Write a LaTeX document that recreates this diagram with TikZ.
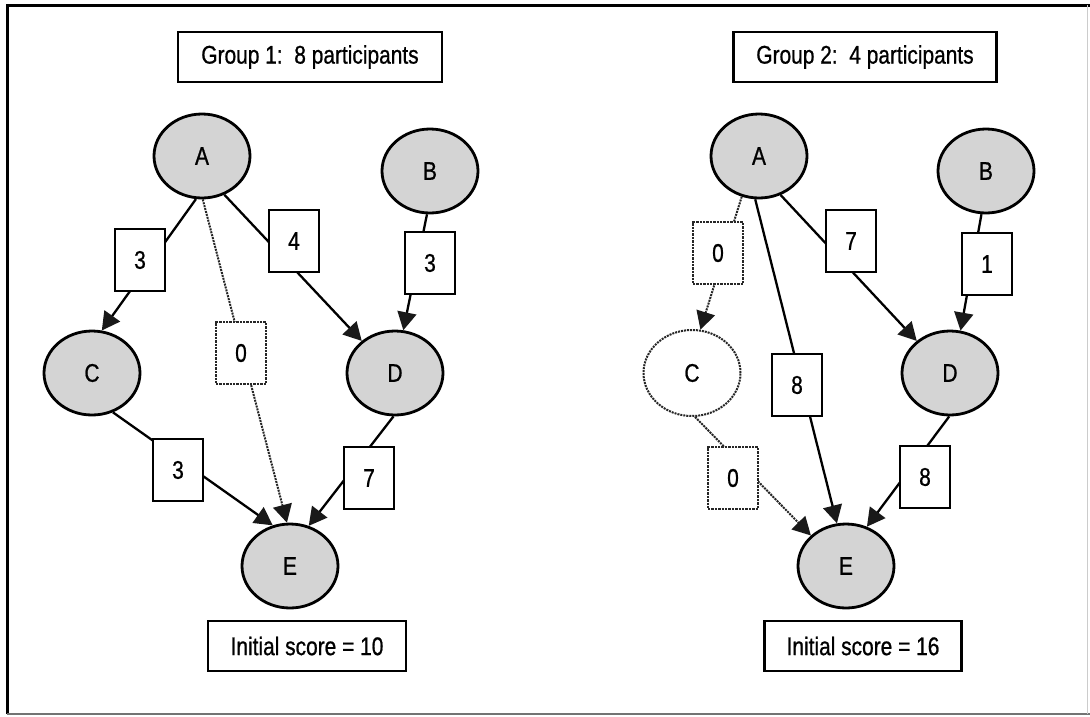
\documentclass[tikz,border=0pt]{standalone}
\usepackage{fontspec}
\setmainfont{Liberation Sans}[FakeStretch=0.82,FakeBold=0.8]
\usetikzlibrary{arrows.meta,shapes.geometric}
\begin{document}
\begin{tikzpicture}[x=1pt,y=-1pt,
  font=\fontsize{25.5}{30}\selectfont,
  state/.style={ellipse,draw,line width=2.8pt,fill=black!17,minimum width=96pt,minimum height=84pt,inner sep=0pt},
  ghost/.style={ellipse,draw=black!85,densely dotted,line width=2pt,fill=white,minimum width=97pt,minimum height=86pt,inner sep=0pt},
  wbox/.style={draw,line width=2.4pt,fill=white,minimum width=50pt,minimum height=62pt,inner sep=0pt},
  zbox/.style={wbox,draw=black!85,densely dotted,line width=2pt},
  caption/.style={draw,line width=2.6pt,fill=white,minimum height=50pt,inner sep=0pt},
  tip/.style={-{Triangle[length=18pt,width=19pt,color=black!90]}},
  flow/.style={line width=2.3pt,tip},
  zflow/.style={draw=black!85,densely dotted,line width=2pt,tip}
]
\useasboundingbox (0,0) rectangle (1090,716);

% outer frame
\draw[line width=3pt] (7,714) -- (7,5) -- (1090,5);
\draw[line width=2.5pt,black!55] (7,714) -- (1090,714);
\draw[line width=1pt,black!20] (1087,5) -- (1087,714);

% ---------- group 1 ----------
\node[caption,minimum width=264pt] (t1) at (310,57) {Group 1:\ \ 8 participants};
\node[state] (a1) at (202,156) {A};
\node[state] (b1) at (430,171) {B};
\node[state] (c1) at (92,373) {C};
\node[state] (d1) at (395,373) {D};
\node[state] (e1) at (290,566) {E};
\node[caption,minimum width=198pt] (s1) at (307,646) {Initial score = 10};

\draw[flow] (a1.262) -- (c1.77);
\draw[flow] (a1.300) -- (d1.136);
\draw[zflow] (a1.271) -- (e1.94);
\draw[flow] (b1.266) -- (d1.79);
\draw[flow] (c1.298) -- (e1.113);
\draw[flow] (d1.268) -- (e1.65);

\node[wbox] (w1ac) at (140,260) {3};
\node[wbox] (w1ad) at (294,241) {4};
\node[zbox] (w1ae) at (241,353) {0};
\node[wbox] (w1bd) at (430,263) {3};
\node[wbox] (w1ce) at (178,470) {3};
\node[wbox] (w1de) at (369,478) {7};

% ---------- group 2 ----------
\node[caption,minimum width=263pt] (t2) at (865,57) {Group 2:\ \ 4 participants};
\node[state] (a2) at (759,156) {A};
\node[state] (b2) at (986,171) {B};
\node[ghost] (c2) at (692,373) {C};
\node[state] (d2) at (950,373) {D};
\node[state] (e2) at (846,566) {E};
\node[caption,minimum width=197pt] (s2) at (863,646) {Initial score = 16};

\draw[zflow] (a2.247) -- (c2.79);
\draw[flow] (a2.265) -- (e2.102);
\draw[flow] (a2.299) -- (d2.136);
\draw[flow] (b2.264) -- (d2.76);
\draw[zflow] (c2.274) -- (e2.139);
\draw[flow] (d2.269) -- (e2.62);

\node[zbox] (w2ac) at (718,253) {0};
\node[wbox] (w2ad) at (851,241) {7};
\node[wbox] (w2bd) at (987,264) {1};
\node[wbox] (w2ae) at (797,385) {8};
\node[zbox] (w2ce) at (733,478) {0};
\node[wbox] (w2de) at (925,477) {8};
\end{tikzpicture}
\end{document}
